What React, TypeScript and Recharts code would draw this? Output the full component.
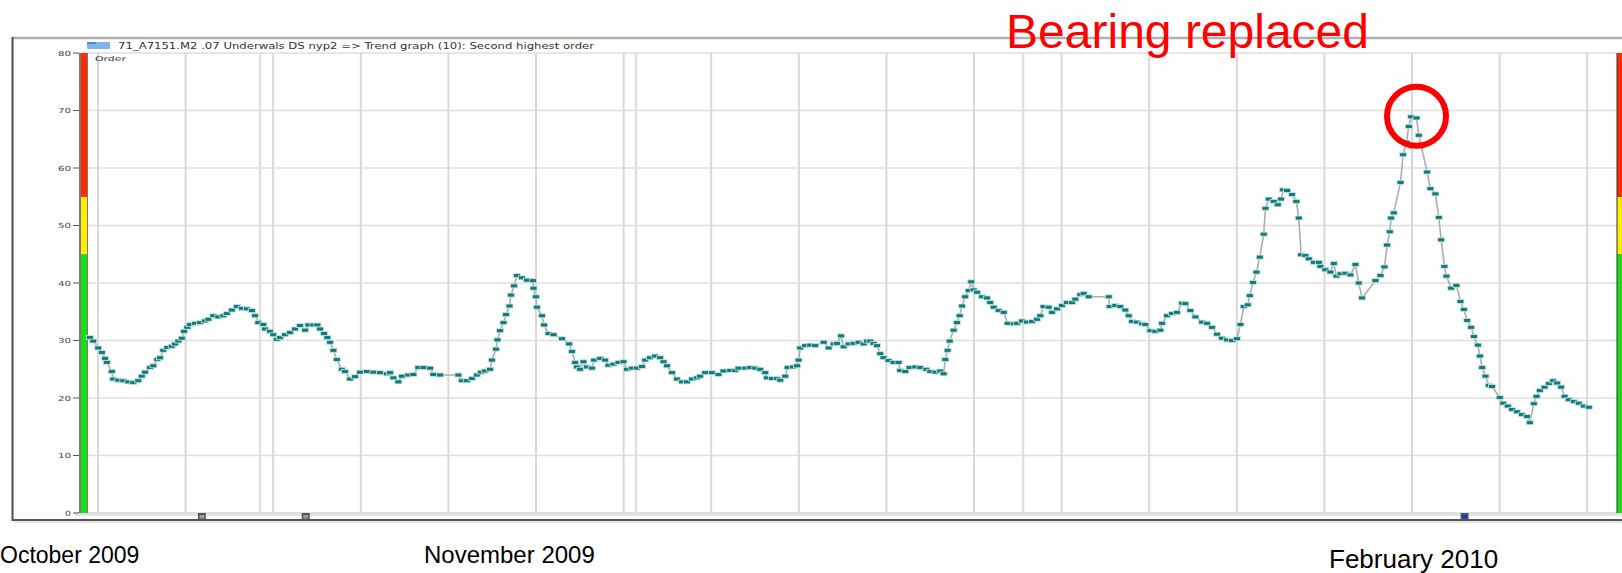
import React from 'react';
import {
  LineChart,
  Line,
  XAxis,
  YAxis,
  CartesianGrid,
  ReferenceLine,
  ReferenceArea,
  ReferenceDot,
} from 'recharts';

// day offset from the first weekly grid line (Oct 2009 -> Feb 2010)
const sampleDay = [
  -0.64, -0.38, 0.02, 0.3, 0.56, 0.7, 1.1, 1.22, 1.62, 2.02, 2.42, 2.82, 3.22, 3.49, 3.76, 4.16, 4.42, 4.74, 4.96, 5.22,
  5.54, 5.89, 6.16, 6.42, 6.69, 6.87, 7.14, 7.35, 7.75, 8.15, 8.55, 8.82, 9.22, 9.62, 10.02, 10.29, 10.69, 11.09, 11.49, 11.89,
  12.29, 12.55, 12.81, 13.21, 13.35, 13.75, 14.01, 14.28, 14.55, 14.95, 15.35, 15.75, 16.15, 16.55, 16.81, 17.21, 17.53, 17.75, 18.07, 18.33,
  18.55, 18.81, 19.08, 19.48, 19.74, 20.14, 20.54, 20.94, 21.48, 22.01, 22.54, 23.08, 23.34, 23.61, 24.0, 24.28, 24.8, 25.2, 25.6, 26.0,
  26.54, 26.8, 27.34, 28.8, 29.07, 29.47, 29.87, 30.27, 30.59, 30.94, 31.33, 31.47, 31.81, 31.92, 32.13, 32.4, 32.61, 32.88, 32.99, 33.25,
  33.47, 33.87, 34.27, 34.75, 34.8, 34.99, 35.07, 35.47, 35.65, 36.0, 36.4, 37.07, 37.65, 37.87, 38.13, 38.27, 38.53, 38.79, 39.06, 39.46,
  39.65, 40.13, 40.53, 40.79, 41.19, 41.59, 41.99, 42.26, 42.66, 43.06, 43.46, 43.73, 44.12, 44.52, 44.92, 45.19, 45.46, 45.86, 46.26, 46.66,
  47.06, 47.46, 47.86, 48.12, 48.52, 49.06, 49.58, 49.98, 50.52, 50.92, 51.18, 51.72, 52.12, 52.52, 52.92, 53.32, 53.45, 53.85, 54.25, 54.52,
  54.92, 55.1, 55.53, 55.85, 55.98, 56.12, 56.51, 56.91, 57.31, 57.98, 58.38, 58.78, 59.05, 59.37, 59.58, 59.98, 60.38, 60.78, 61.18, 61.45,
  61.71, 61.97, 62.25, 62.51, 62.77, 63.17, 63.57, 63.97, 64.11, 64.51, 64.85, 65.31, 65.71, 66.19, 66.51, 66.91, 67.31, 67.57, 67.71, 67.89,
  68.05, 68.37, 68.64, 68.85, 69.04, 69.3, 69.57, 69.78, 69.97, 70.24, 70.64, 71.04, 71.3, 71.57, 71.97, 72.37, 72.69, 73.17, 73.44, 73.84,
  74.24, 74.64, 75.04, 75.3, 75.56, 75.96, 76.24, 76.64, 77.03, 77.43, 77.83, 78.1, 78.5, 78.76, 79.16, 80.76, 80.84, 81.29, 81.69, 82.09,
  82.36, 82.63, 83.03, 83.43, 83.69, 84.09, 84.49, 84.89, 85.03, 85.43, 85.83, 86.23, 86.63, 86.89, 87.29, 87.69, 88.23, 88.63, 89.02, 89.42,
  89.82, 90.22, 90.62, 91.02, 91.29, 91.55, 91.87, 92.03, 92.3, 92.57, 92.83, 93.15, 93.29, 93.55, 93.95, 94.27, 94.54, 94.7, 95.02, 95.42,
  95.76, 95.95, 96.14, 96.48, 96.75, 97.15, 97.55, 97.68, 98.08, 98.48, 98.75, 98.96, 99.28, 99.68, 100.08, 100.48, 100.74, 101.01, 102.08, 102.48,
  102.8, 103.01, 103.22, 103.33, 103.54, 104.08, 104.29, 104.56, 104.74, 104.93, 105.36, 105.54, 106.21, 106.47, 106.87, 107.14, 107.33, 107.59, 107.75, 108.13,
  108.55, 108.87, 109.14, 109.41, 109.73, 109.94, 110.26, 110.42, 110.61, 110.87, 111.13, 111.4, 112.01, 112.29, 112.65, 113.0, 113.4, 113.8, 114.2, 114.41,
  114.73, 114.95, 115.21, 115.59, 115.93, 116.28, 116.6, 116.92, 117.19, 117.53, 117.93, 118.33, 118.73, 119.13,
];

// trend values: second highest order
const secondOrder = [
  30.5, 29.9, 28.7, 27.9, 26.9, 26.2, 24.6, 23.3, 23.1, 23.0, 22.8, 22.7, 23.0, 23.8, 24.5, 25.3, 25.6, 26.7, 27.0, 28.3,
  28.8, 29.0, 29.4, 29.9, 30.4, 31.6, 32.3, 32.8, 33.0, 33.1, 33.4, 33.7, 34.3, 34.1, 34.3, 34.7, 35.3, 35.9, 35.6, 35.5,
  35.2, 34.3, 33.1, 32.8, 32.0, 31.6, 31.0, 30.2, 30.5, 31.0, 31.4, 32.0, 32.6, 31.8, 32.7, 32.7, 32.7, 32.0, 31.2, 30.5,
  29.7, 28.3, 26.7, 25.0, 24.6, 23.3, 23.7, 24.5, 24.6, 24.5, 24.4, 24.2, 24.4, 23.5, 22.8, 23.8, 24.0, 24.1, 25.3, 25.3,
  25.2, 24.1, 24.0, 24.0, 23.0, 23.0, 23.4, 24.0, 24.5, 24.7, 25.0, 26.6, 28.5, 30.1, 31.7, 33.1, 34.5, 36.0, 37.9, 39.5,
  41.3, 40.9, 40.5, 40.4, 39.1, 37.6, 35.8, 34.3, 32.7, 31.2, 31.0, 30.3, 29.4, 28.1, 26.2, 25.4, 25.0, 26.3, 25.4, 25.2,
  26.6, 26.9, 26.6, 25.7, 25.9, 26.2, 26.3, 25.0, 25.2, 25.2, 25.5, 26.6, 27.0, 27.3, 27.0, 26.3, 25.6, 24.4, 23.3, 22.8,
  22.8, 23.3, 23.5, 23.8, 24.4, 24.4, 24.1, 24.7, 24.8, 24.8, 25.2, 25.2, 25.3, 25.2, 25.0, 24.4, 23.5, 23.4, 23.4, 23.1,
  23.8, 25.3, 25.4, 25.6, 26.6, 28.7, 29.1, 29.2, 29.1, 29.7, 28.7, 29.4, 29.5, 30.8, 28.9, 29.4, 29.5, 29.7, 29.4, 29.9,
  29.9, 29.5, 29.1, 27.7, 27.0, 26.5, 26.2, 26.2, 24.8, 24.6, 25.3, 25.4, 25.3, 25.0, 24.6, 24.5, 24.7, 24.2, 26.7, 28.3,
  29.9, 31.8, 33.1, 34.3, 36.0, 37.6, 38.7, 40.2, 38.8, 38.4, 37.6, 37.4, 36.6, 35.8, 35.2, 34.9, 33.0, 32.9, 33.0, 33.4,
  33.2, 33.3, 33.7, 34.3, 35.9, 35.8, 34.9, 35.5, 36.1, 36.6, 36.6, 37.2, 38.0, 38.2, 37.6, 37.6, 35.9, 36.1, 35.9, 35.3,
  34.3, 33.3, 33.2, 32.9, 32.8, 31.7, 31.6, 31.8, 33.0, 34.3, 34.7, 34.9, 36.5, 36.4, 35.2, 34.1, 33.2, 33.0, 32.3, 31.1,
  30.4, 30.1, 30.0, 30.3, 32.8, 35.9, 36.2, 37.8, 40.1, 41.9, 44.5, 48.5, 53.0, 54.6, 54.2, 53.6, 54.6, 56.2, 56.1, 55.4,
  54.2, 51.3, 44.9, 44.8, 44.2, 43.6, 43.6, 42.9, 42.3, 41.9, 43.4, 41.2, 41.6, 41.7, 41.4, 43.2, 40.0, 37.4, 40.4, 41.3,
  42.8, 46.6, 48.9, 51.3, 52.2, 57.5, 62.3, 64.5, 67.2, 68.9, 68.7, 65.7, 59.3, 56.4, 55.5, 51.4, 47.5, 42.9, 41.2, 39.1,
  39.6, 36.8, 35.4, 33.5, 32.3, 30.7, 29.2, 27.3, 25.3, 23.8, 22.2, 22.0, 20.1, 19.1, 18.6, 18.0, 17.6, 17.1, 16.8, 15.7,
  19.0, 20.3, 21.3, 21.9, 22.5, 23.0, 22.6, 21.9, 20.3, 19.7, 19.4, 19.1, 18.6, 18.4,
];

const orderTicks = [0, 10, 20, 30, 40, 50, 60, 70, 80];
const weekLines = [0, 7, 14, 21, 28, 35, 42, 49, 56, 63, 70, 77, 84, 91, 98, 105, 112, 119];
const eventLines = [12.95, 42.99, 73.92];
const alarmBands = [
  { from: 0, to: 45, color: '#14e014' },
  { from: 45, to: 55, color: '#ffec00' },
  { from: 55, to: 80, color: '#ff2a00' },
];
const bottomMarks = [
  { day: 8.3, color: '#9c9c9c' },
  { day: 16.6, color: '#9c9c9c' },
  { day: 109.2, color: '#1434e0' },
];
const replacedDay = 105.36;
const replacedValue = 69;

const data = sampleDay.map((d, i) => ({ day: d, order: secondOrder[i] }));

const DAY_MIN = -1.52;
const DAY_MAX = 121.78;
const FONT = '"Liberation Sans", Arial, sans-serif';

const renderYTick = (props: any) => {
  const { x, y, payload } = props;
  const s = String(payload.value);
  return (
    <text x={x} y={y} dy="0.36em" textAnchor="end" fontSize={7} fill="#444"
      fontFamily='"DejaVu Sans", sans-serif' textLength={s.length * 7 - 1} lengthAdjust="spacingAndGlyphs">
      {s}
    </text>
  );
};

const renderDot = (p: any) => {
  const { cx, cy, index } = p;
  if (cx == null || cy == null) return <g key={`d-${index}`} />;
  return (
    <rect key={`d-${index}`} x={cx - 3.5} y={cy - 2} width={7} height={4}
      fill="#117c7b" stroke="#cde6e5" strokeWidth={0.8} />
  );
};

const markShape = (color: string) => (p: any) => (
  <g>
    <rect x={p.cx - 4} y={p.cy} width={8} height={7} fill="#555" />
    <rect x={p.cx - 2.5} y={p.cy + 2} width={5} height={3.5} fill={color} />
  </g>
);

export default function App() {
  return (
    <div style={{ position: 'absolute', left: 0, top: 0, width: 1622, height: 573, background: '#fff', overflow: 'hidden' }}>
      {/* window frame */}
      <svg width={1622} height={573} style={{ position: 'absolute', left: 0, top: 0 }}>
        <line x1={12} y1={38} x2={1622} y2={38} stroke="#b0b0b0" strokeWidth={2.5} />
        <line x1={12.5} y1={37} x2={12.5} y2={521} stroke="#4a4a4a" strokeWidth={2} />
        <rect x={75} y={512} width={1547} height={4} fill="#e4e4e4" />
        <line x1={12} y1={520} x2={1622} y2={520} stroke="#555" strokeWidth={2} />
        <line x1={14} y1={522} x2={1622} y2={522} stroke="#d0d0d0" strokeWidth={1} />
      </svg>

      <div style={{ position: 'absolute', left: 0, top: 0 }}>
        <LineChart width={1622} height={573} data={data} margin={{ top: 53, right: 0, bottom: 60, left: 0 }}>
          <CartesianGrid vertical={false} stroke="#dedede" strokeWidth={1.5} />
          <XAxis type="number" dataKey="day" domain={[DAY_MIN, DAY_MAX]} hide allowDataOverflow />
          <YAxis type="number" domain={[0, 80]} ticks={orderTicks} interval={0} width={79}
            axisLine={false} tickSize={6} tickLine={{ stroke: '#555' }} tick={renderYTick} />
          {weekLines.map((d) => (
            <ReferenceLine key={`w-${d}`} x={d} stroke="#d8d8d8" strokeWidth={2} />
          ))}
          {eventLines.map((d) => (
            <ReferenceLine key={`e-${d}`} x={d} stroke="#e0e0e0" strokeWidth={2.5} />
          ))}
          {/* alarm level bars on both sides */}
          <ReferenceArea x1={DAY_MIN} x2={-0.8} y1={0} y2={80} fill="#7a7a7a" fillOpacity={1} stroke="none" />
          <ReferenceArea x1={121.34} x2={DAY_MAX} y1={0} y2={80} fill="#333" fillOpacity={1} stroke="none" />
          {alarmBands.map((b) => (
            <ReferenceArea key={`l-${b.from}`} x1={-1.36} x2={-0.88} y1={b.from} y2={b.to} fill={b.color} fillOpacity={1} stroke="none" />
          ))}
          {alarmBands.map((b) => (
            <ReferenceArea key={`r-${b.from}`} x1={121.42} x2={DAY_MAX} y1={b.from} y2={b.to} fill={b.color} fillOpacity={1} stroke="none" />
          ))}
          <Line type="linear" dataKey="order" stroke="#adadad" strokeWidth={1.6} dot={renderDot}
            activeDot={false} isAnimationActive={false} />
          {bottomMarks.map((m) => (
            <ReferenceDot key={`m-${m.day}`} x={m.day} y={0} ifOverflow="visible" shape={markShape(m.color)} />
          ))}
          <ReferenceDot x={replacedDay} y={replacedValue} r={29.5} fill="none" stroke="#ff0000" strokeWidth={6} ifOverflow="visible" />
        </LineChart>
      </div>

      {/* texts */}
      <svg width={1622} height={573} style={{ position: 'absolute', left: 0, top: 0, pointerEvents: 'none' }}>
        <rect x={87} y={42} width={23} height={7} rx={1} fill="#7fb4e6" />
        <rect x={87} y={42} width={9} height={2} fill="#4d8fd0" />
        <text x={118} y={48.5} fontSize={8} fill="#333" fontFamily='"DejaVu Sans", sans-serif'
          textLength={476} lengthAdjust="spacingAndGlyphs">
          71_A7151.M2 .07 Underwals DS nyp2 =&gt; Trend graph (10): Second highest order
        </text>
        <text x={95} y={60.5} fontSize={6.5} fill="#333" fontFamily='"DejaVu Sans", sans-serif'
          textLength={31} lengthAdjust="spacingAndGlyphs">
          Order
        </text>
        <text x={1369} y={48} textAnchor="end" fontSize={48} fill="#ff0000" fontFamily={FONT}>
          Bearing replaced
        </text>
        <text x={0} y={563} fontSize={23} fill="#000" fontFamily={FONT}>October 2009</text>
        <text x={424} y={563} fontSize={24} fill="#000" fontFamily={FONT}>November 2009</text>
        <text x={1329} y={567.5} fontSize={26} fill="#000" fontFamily={FONT}>February 2010</text>
      </svg>
    </div>
  );
}
